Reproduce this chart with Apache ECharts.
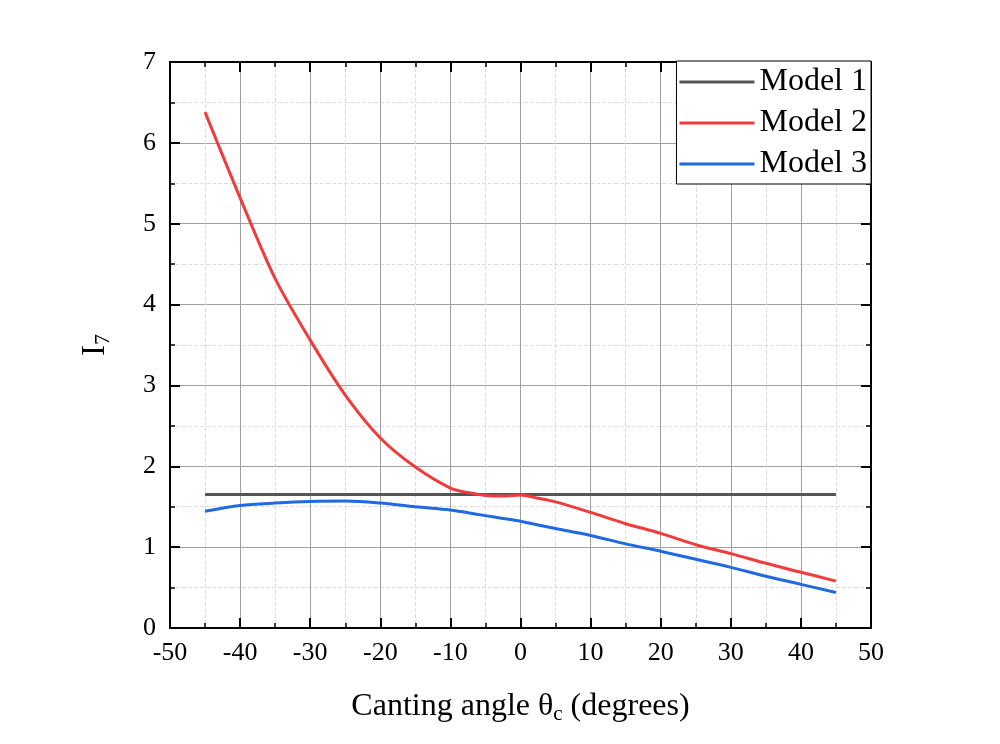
<!DOCTYPE html>
<html>
<head>
<meta charset="utf-8">
<title>I7 vs canting angle</title>
<script src="https://cdn.jsdelivr.net/npm/echarts@6/dist/echarts.min.js"></script>
<style>
  html, body { margin: 0; padding: 0; background: #fff; }
  #chart { width: 1000px; height: 744px; }
</style>
</head>
<body>
<div id="chart"></div>
<script>
// angles in degrees
var angles = [-45, -40, -35, -30, -25, -20, -15, -10, -7.5, -5, -2.5, 0, 2.5, 5, 10, 15, 20, 25, 30, 35, 40, 45];
var model1 = [1.65, 1.65, 1.65, 1.65, 1.65, 1.65, 1.65, 1.65, 1.65, 1.65, 1.65, 1.65, 1.65, 1.65, 1.65, 1.65, 1.65, 1.65, 1.65, 1.65, 1.65, 1.65];
var model2 = [6.38, 5.32, 4.32, 3.56, 2.88, 2.35, 1.99, 1.73, 1.675, 1.64, 1.632, 1.645, 1.605, 1.56, 1.43, 1.29, 1.17, 1.03, 0.92, 0.80, 0.69, 0.58];
var model3 = [1.445, 1.515, 1.545, 1.565, 1.57, 1.545, 1.50, 1.46, 1.425, 1.39, 1.355, 1.32, 1.275, 1.23, 1.145, 1.04, 0.95, 0.85, 0.75, 0.64, 0.54, 0.44];
var seriesNames = ['Model 1', 'Model 2', 'Model 3'];
var colors = ['#555555', '#f03c3c', '#1f6ae0'];

function pairs(ys) {
    var out = [];
    for (var i = 0; i < angles.length; i++) {
        out.push([angles[i], ys[i]]);
    }
    return out;
}

var font = '"Liberation Serif", "Times New Roman", serif';
var chart = echarts.init(document.getElementById('chart'));

// shared look of all four axis frames
function frameAxis(extra) {
    var ax = {
        type: 'value',
        axisLine: { show: true, onZero: false, lineStyle: { color: '#000', width: 2 } },
        axisTick: { show: true, inside: true, length: 10, lineStyle: { color: '#000', width: 2 } },
        minorTick: { show: true, splitNumber: 2, length: 5, lineStyle: { color: '#000', width: 1.5 } },
        splitLine: { show: false },
        minorSplitLine: { show: false },
        axisLabel: { show: false }
    };
    for (var k in extra) ax[k] = extra[k];
    return ax;
}

chart.setOption({
    animation: false,
    color: colors,
    grid: { left: 170, right: 129, top: 62, bottom: 116 },
    legend: {
        orient: 'vertical',
        right: 129,
        top: 61,
        data: seriesNames,
        icon: 'rect',
        itemWidth: 75,
        itemHeight: 3,
        itemGap: 9,
        padding: [5, 4, 4, 3],
        borderColor: '#000',
        borderWidth: 1,
        backgroundColor: '#fff',
        textStyle: { fontFamily: font, fontSize: 32, color: '#000' }
    },
    xAxis: [
        frameAxis({
            min: -50, max: 50, interval: 10,
            position: 'bottom',
            axisLabel: { show: true, fontFamily: font, fontSize: 26, color: '#000', margin: 12 },
            splitLine: { show: true, lineStyle: { color: '#a0a0a0', width: 1 } },
            minorSplitLine: { show: true, lineStyle: { color: '#dcdcdc', width: 1, type: 'dashed' } },
            name: 'Canting angle {g|θ}{s|c} (degrees)',
            nameLocation: 'middle',
            nameGap: 60,
            nameTextStyle: {
                fontFamily: font, fontSize: 32, color: '#000',
                rich: {
                    g: { fontFamily: font, fontSize: 32, color: '#000' },
                    s: { fontFamily: font, fontSize: 21, color: '#000', verticalAlign: 'bottom', padding: [16, 0, 0, 0] }
                }
            }
        }),
        frameAxis({ min: -50, max: 50, interval: 10, position: 'top' })
    ],
    yAxis: [
        frameAxis({
            min: 0, max: 7, interval: 1,
            position: 'left',
            axisLabel: { show: true, fontFamily: font, fontSize: 26, color: '#000', margin: 14 },
            splitLine: { show: true, lineStyle: { color: '#a0a0a0', width: 1 } },
            minorSplitLine: { show: true, lineStyle: { color: '#dcdcdc', width: 1, type: 'dashed' } },
            name: '{i|I}{s|7}',
            nameLocation: 'middle',
            nameGap: 56,
            nameTextStyle: {
                rich: {
                    i: { fontFamily: font, fontSize: 33, color: '#000' },
                    s: { fontFamily: font, fontSize: 22, color: '#000', verticalAlign: 'bottom', padding: [16, 0, 0, 0] }
                }
            }
        }),
        frameAxis({ min: 0, max: 7, interval: 1, position: 'right' })
    ],
    series: [
        {
            name: seriesNames[0], type: 'line', data: pairs(model1),
            showSymbol: false, smooth: false,
            lineStyle: { width: 3, color: colors[0] }
        },
        {
            name: seriesNames[1], type: 'line', data: pairs(model2),
            showSymbol: false, smooth: 0.3,
            lineStyle: { width: 3, color: colors[1] }
        },
        {
            name: seriesNames[2], type: 'line', data: pairs(model3),
            showSymbol: false, smooth: 0.3,
            lineStyle: { width: 3, color: colors[2] }
        }
    ]
});
</script>
</body>
</html>
